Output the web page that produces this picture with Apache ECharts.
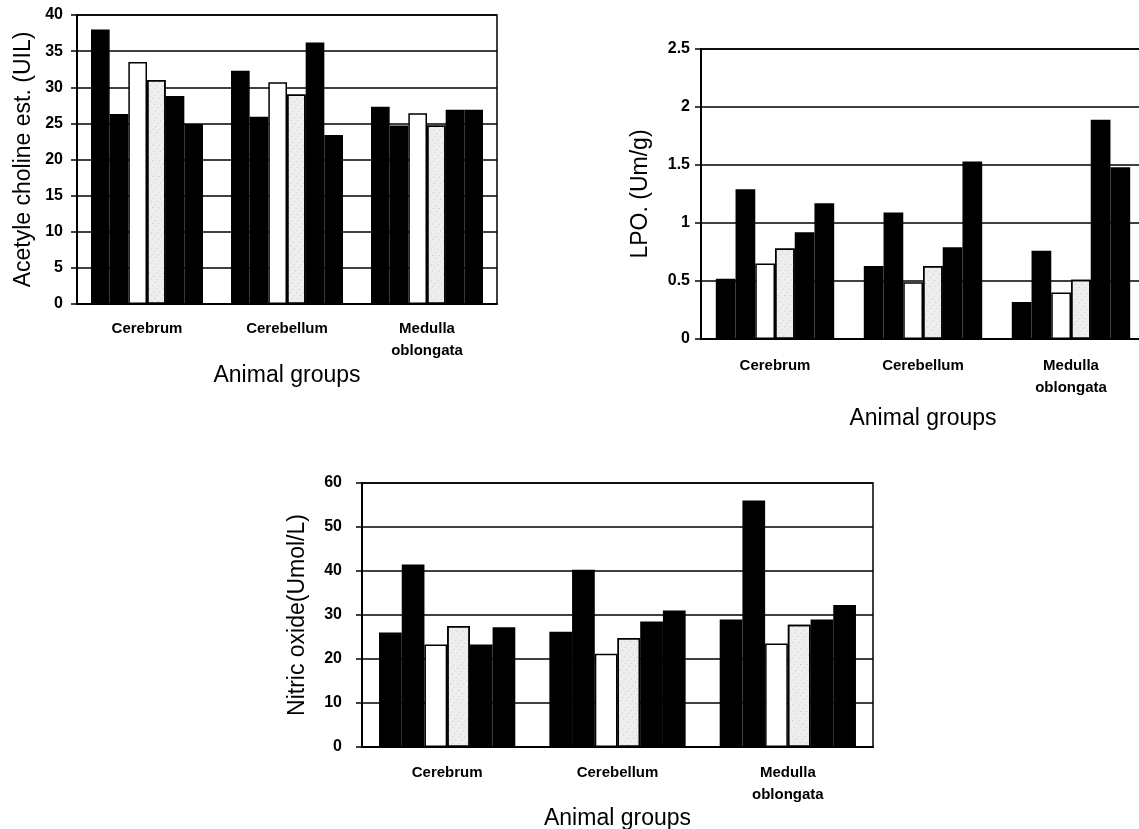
<!DOCTYPE html>
<html>
<head>
<meta charset="utf-8">
<title>Brain region bar charts</title>
<script src="https://cdn.jsdelivr.net/npm/echarts@6/dist/echarts.min.js"></script>
<style>
  html, body { margin: 0; padding: 0; background: #fff; }
  #chart { width: 1139px; height: 829px; }
</style>
</head>
<body>
<div id="chart"></div>
<script>
// categories shared by all three panels
const regions = ['Cerebrum', 'Cerebellum', 'Medulla\noblongata']

// Acetyl choline esterase (U/L), one array per animal group (bar position)
const achG1 = [38.0, 32.3, 27.3]
const achG2 = [26.3, 25.9, 24.7]
const achG3 = [33.5, 30.7, 26.4]
const achG4 = [31.0, 29.0, 24.7]
const achG5 = [28.8, 36.2, 26.9]
const achG6 = [24.9, 23.4, 26.9]

// LPO (Um/g)
const lpoG1 = [0.52, 0.63, 0.32]
const lpoG2 = [1.29, 1.09, 0.76]
const lpoG3 = [0.65, 0.49, 0.40]
const lpoG4 = [0.78, 0.63, 0.51]
const lpoG5 = [0.92, 0.79, 1.89]
const lpoG6 = [1.17, 1.53, 1.48]

// Nitric oxide (Umol/L)
const noG1 = [26.0, 26.2, 29.0]
const noG2 = [41.5, 40.3, 56.0]
const noG3 = [23.3, 21.2, 23.5]
const noG4 = [27.5, 24.8, 27.8]
const noG5 = [23.3, 28.5, 29.0]
const noG6 = [27.2, 31.0, 32.3]

const FONT = '"Liberation Sans", Arial, sans-serif'

// bar fill per position in a group: black, black, white, stippled, black, black
function barStyle(pos) {
  const base = { borderColor: '#000', borderWidth: 1.5 }
  if (pos === 2) return { ...base, color: '#fff' }
  if (pos === 3) {
    return {
      ...base,
      color: '#eeeeee',
      decal: {
        symbol: 'rect',
        symbolSize: 0.6,
        color: 'rgba(0,0,0,0.55)',
        dashArrayX: [[1, 4]],
        dashArrayY: [1, 3],
        rotation: 0.7
      }
    }
  }
  return { ...base, color: '#000' }
}

function makeSeries(groups, axisIdx) {
  return groups.map((data, i) => ({
    type: 'bar',
    xAxisIndex: axisIdx,
    yAxisIndex: axisIdx,
    data,
    barGap: '0%',
    barCategoryGap: '20%',
    itemStyle: barStyle(i),
    emphasis: { disabled: true },
    animation: false
  }))
}

function xAxisCfg(gridIndex, gap, margin) {
  return {
    type: 'category',
    gridIndex,
    data: regions,
    name: 'Animal groups',
    nameLocation: 'middle',
    nameGap: gap,
    nameTextStyle: { fontFamily: FONT, fontSize: 23, color: '#000' },
    axisLine: { lineStyle: { color: '#000', width: 2 } },
    axisTick: { show: false },
    axisLabel: {
      fontFamily: FONT, fontWeight: 'bold', fontSize: 15, color: '#000',
      margin, lineHeight: 22, interval: 0
    }
  }
}

function yAxisCfg(gridIndex, name, max, interval, gap, margin) {
  return {
    type: 'value',
    gridIndex,
    min: 0,
    max,
    interval,
    name,
    nameLocation: 'middle',
    nameGap: gap,
    nameTextStyle: { fontFamily: FONT, fontSize: 23, color: '#000' },
    axisLine: { show: true, lineStyle: { color: '#000', width: 2 } },
    axisTick: { show: true, length: 6, lineStyle: { color: '#000', width: 1.5 } },
    axisLabel: { fontFamily: FONT, fontWeight: 'bold', fontSize: 16, color: '#000', margin },
    splitLine: { show: true, lineStyle: { color: '#000', width: 1.5 } }
  }
}

const chart = echarts.init(document.getElementById('chart'))

chart.setOption({
  backgroundColor: '#fff',
  animation: false,
  grid: [
    { left: 77, top: 15, width: 420, height: 289, show: true, borderColor: '#000', borderWidth: 1.5, outerBoundsMode: 'none' },
    { left: 701, top: 49, width: 444, height: 290, show: true, borderColor: '#000', borderWidth: 1.5, outerBoundsMode: 'none' },
    { left: 362, top: 483, width: 511, height: 264, show: true, borderColor: '#000', borderWidth: 1.5, outerBoundsMode: 'none' }
  ],
  xAxis: [
    xAxisCfg(0, 60, 14),
    xAxisCfg(1, 68, 16),
    xAxisCfg(2, 59, 15)
  ],
  yAxis: [
    yAxisCfg(0, 'Acetyle choline est. (UIL)', 40, 5, 42, 14),
    yAxisCfg(1, 'LPO. (Um/g)', 2.5, 0.5, 49, 11),
    yAxisCfg(2, 'Nitric oxide(Umol/L)', 60, 10, 53, 20)
  ],
  series: [
    ...makeSeries([achG1, achG2, achG3, achG4, achG5, achG6], 0),
    ...makeSeries([lpoG1, lpoG2, lpoG3, lpoG4, lpoG5, lpoG6], 1),
    ...makeSeries([noG1, noG2, noG3, noG4, noG5, noG6], 2)
  ]
})

window.addEventListener('resize', () => chart.resize())
</script>
</body>
</html>
